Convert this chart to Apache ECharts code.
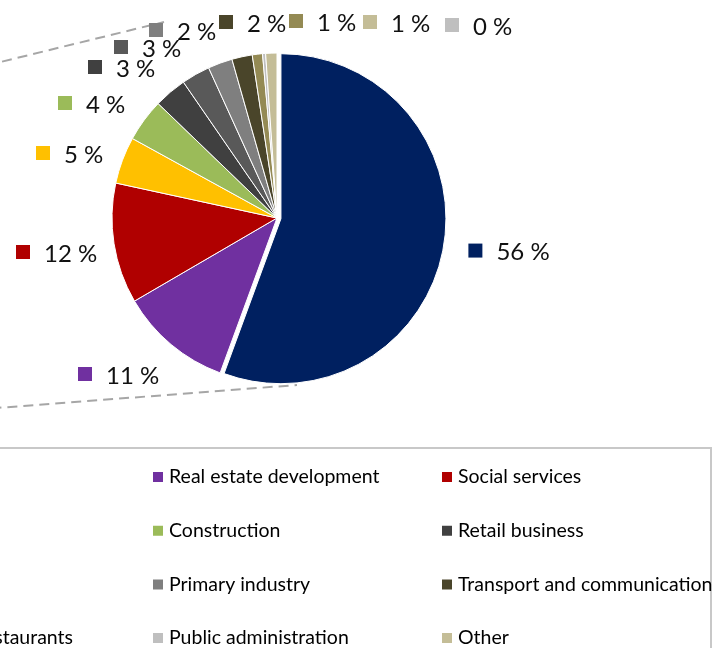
<!DOCTYPE html>
<html>
<head>
<meta charset="utf-8">
<script src="https://cdn.jsdelivr.net/npm/echarts@6/dist/echarts.min.js"></script>
<style>
  html, body { margin: 0; width: 714px; height: 648px; overflow: hidden; background: #fff; }
  /* the chart is wider than the window: the left part is cropped, as in the picture */
  #chart { position: absolute; left: -300px; top: 0; width: 1014px; height: 648px; }
</style>
</head>
<body>
<div id="chart"></div>
<script>
// sectors, in pie order (clockwise from 12 o'clock)
var sectors = ['Services', 'Real estate development', 'Social services',
  'Industry', 'Construction', 'Retail business',
  'Shipping', 'Primary industry', 'Transport and communication',
  'Hotels and restaurants', 'Public administration', 'Other']
// share of loans, per cent
var shares = [55.6, 11.0, 11.8, 4.6, 4.2, 3.2, 2.8, 2.4, 2.0, 1.0, 0.3, 1.1]
var colors = ['#002060', '#7030a0', '#b00000', '#ffc000', '#9bbb59', '#404040',
  '#595959', '#7f7f7f', '#4a452a', '#948a54', '#bfbfbf', '#c4bd97']

var OFFSET = 300 // px cut off on the left
// where each slice's label sits (left edge of its key, middle); the first one is left to the pie
var labelPos = [null, [78, 374], [16, 252], [36, 153], [58, 103], [88, 67],
  [114, 47], [149, 30], [219, 22], [289, 21], [445, 25], [363, 22]]
var legendLeft = [-138, 151, 440]

var chart = echarts.init(document.getElementById('chart'))

var pieData = sectors.map(function (name, i) {
  var item = {
    name: name,
    value: shares[i],
    itemStyle: { color: colors[i] },
    label: {
      rich: {
        k: { width: 14, height: 14, backgroundColor: colors[i], verticalAlign: 'middle' },
        t: { fontFamily: 'Lato', fontSize: 24, color: '#111', lineHeight: 28, padding: [4, 0, 0, 14] }
      }
    }
  }
  if (i === 0) {
    // the big slice is pulled out a little
    item.selected = true
    item.labelLine = { show: false, length: 0, length2: 20 }
    item.label.padding = [6, 0, 0, 0]
  }
  return item
})

// legend in 3 columns, filled row by row
var legends = [0, 1, 2].map(function (c) {
  return {
    orient: 'vertical',
    left: legendLeft[c] + OFFSET,
    top: 467,
    height: 230,
    padding: 0,
    icon: 'rect',
    itemWidth: 12,
    itemHeight: 12,
    itemGap: 33.7,
    selectedMode: false,
    data: sectors.filter(function (s, i) { return i % 3 === c }),
    textStyle: { fontFamily: 'Lato', fontSize: 19.5, color: '#000', lineHeight: 20 }
  }
})

chart.setOption({
  animation: false,
  legend: legends,
  graphic: [
    // connector lines to the main pie (off to the left)
    { type: 'line', shape: { x1: 100, y1: 111, x2: 164 + OFFSET, y2: 22 },
      style: { stroke: '#a6a6a6', lineWidth: 2, lineDash: [10, 6] } },
    { type: 'line', shape: { x1: 100, y1: 423, x2: 297 + OFFSET, y2: 385 },
      style: { stroke: '#a6a6a6', lineWidth: 2, lineDash: [10, 6] } },
    // legend frame
    { type: 'rect', shape: { x: 60, y: 448, width: 711 + OFFSET - 60, height: 260 },
      style: { fill: 'none', stroke: '#c8c8c8', lineWidth: 2 } }
  ],
  series: [
    {
      type: 'pie',
      center: [277 + OFFSET, 218],
      radius: 165,
      startAngle: 90,
      clockwise: true,
      selectedMode: 'single',
      selectedOffset: 4,
      avoidLabelOverlap: false,
      itemStyle: { borderColor: '#fff', borderWidth: 1 },
      emphasis: { disabled: true },
      label: {
        show: true,
        position: 'outside',
        formatter: function (p) {
          return '{k|}{t|' + Math.round(p.percent) + ' %}'
        }
      },
      labelLine: { show: false },
      labelLayout: function (p) {
        var pos = labelPos[p.dataIndex]
        if (!pos) return {}
        return { x: pos[0] + OFFSET, y: pos[1], align: 'left', verticalAlign: 'middle' }
      },
      data: pieData
    }
  ]
})
</script>
</body>
</html>
